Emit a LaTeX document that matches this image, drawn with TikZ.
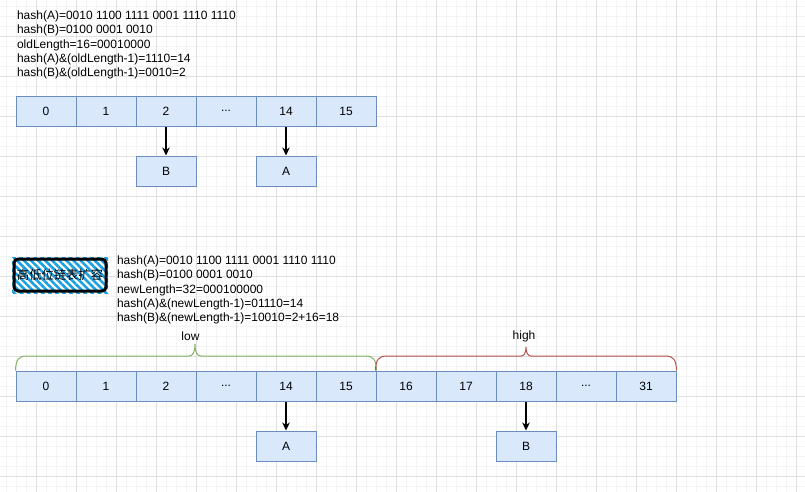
\documentclass[tikz,border=0pt]{standalone}
\usepackage{fontspec}
\setmainfont{Liberation Sans}
\newfontfamily\cjkfont{Noto Sans CJK SC}
\usetikzlibrary{arrows.meta,patterns.meta}
\definecolor{cellfill}{HTML}{DAE8FC}
\definecolor{cellline}{HTML}{6C8EBF}
\definecolor{lowgreen}{HTML}{82B366}
\definecolor{highred}{HTML}{B85450}
\definecolor{hatchblue}{HTML}{1BA1E2}
\definecolor{gridmajor}{HTML}{E0E0E0}
\definecolor{gridminor}{HTML}{F4F4F4}

\begin{document}
\begin{tikzpicture}[x=1pt,y=-1pt]
\tikzstyle{every node}+=[inner sep=0pt]
\tikzstyle{cell}=[draw=cellline,fill=cellfill,line width=1pt,minimum width=60pt,minimum height=30pt,font=\fontsize{12}{14}\selectfont]
\tikzstyle{hashtext}=[anchor=north west,align=left,font=\fontsize{12}{14.3}\selectfont]
\tikzstyle{bucket}=[-{Stealth[length=8pt,width=7.5pt,inset=2.5pt]},line width=1.1pt,black]
\useasboundingbox (0,0) rectangle (805,491);
\fill [white] (0,0) rectangle (805,491);
\draw [gridminor,line width=0.8pt,shift={(6,6)},step=10pt] (-10,-10) grid (800,486);
\draw [gridmajor,line width=0.8pt,shift={(36,36)},step=40pt] (-40,-40) grid (770,456);
\node [hashtext] (oldtext) at (16.8,10.6) {hash(A)=0010 1100 1111 0001 1110 1110\\hash(B)=0100 0001 0010\\oldLength=16=00010000\\hash(A)\&(oldLength-1)=1110=14\\hash(B)\&(oldLength-1)=0010=2};
\node [cell] (o0) at (46,111) {0};
\node [cell] (o1) at (106,111) {1};
\node [cell] (o2) at (166,111) {2};
\node [cell] (o3) at (226,111) {...};
\node [cell] (o4) at (286,111) {14};
\node [cell] (o5) at (346,111) {15};
\node [cell] (oB) at (166,171) {B};
\node [cell] (oA) at (286,171) {A};
\draw [bucket] (o2) -- (oB);
\draw [bucket] (o4) -- (oA);
\fill [white] (12,257) rectangle (108,293);
\fill [pattern={Lines[angle=-45,distance=5pt,line width=2.6pt]},pattern color=hatchblue] (12,257) rectangle (108,293);
\draw [black,line width=3pt,rounded corners=4pt] (14,259) rectangle (106,291);
\node [font=\cjkfont\fontsize{12.3}{14}\selectfont] (title) at (60,275) {高低位链表扩容};
\node [hashtext] (newtext) at (116.8,255.6) {hash(A)=0010 1100 1111 0001 1110 1110\\hash(B)=0100 0001 0010\\newLength=32=000100000\\hash(A)\&(newLength-1)=01110=14\\hash(B)\&(newLength-1)=10010=2+16=18};
\node [cell] (n0) at (46,386) {0};
\node [cell] (n1) at (106,386) {1};
\node [cell] (n2) at (166,386) {2};
\node [cell] (n3) at (226,386) {...};
\node [cell] (n4) at (286,386) {14};
\node [cell] (n5) at (346,386) {15};
\node [cell] (n6) at (406,386) {16};
\node [cell] (n7) at (466,386) {17};
\node [cell] (n8) at (526,386) {18};
\node [cell] (n9) at (586,386) {...};
\node [cell] (n10) at (646,386) {31};
\node [cell] (nA) at (286,446) {A};
\node [cell] (nB) at (526,446) {B};
\draw [bucket] (n4) -- (nA);
\draw [bucket] (n8) -- (nB);
\draw [lowgreen,line width=1pt] (n0.north west) .. controls (16,360) and (18,356) .. (27,356) -- (189,356) .. controls (193,356) and (195,352) .. (195,344) .. controls (195,352) and (197,356) .. (201,356) -- (365,356) .. controls (374,356) and (376,360) .. (n5.north east);
\draw [highred,line width=1pt] (n6.north west) .. controls (376,360) and (378,356) .. (387,356) -- (521,356) .. controls (524,356) and (526,353) .. (526,347) .. controls (526,353) and (528,356) .. (531,356) -- (665,356) .. controls (674,356) and (676,360) .. (n10.north east);
\node [font=\fontsize{12}{14}\selectfont] (low) at (190.5,336) {low};
\node [font=\fontsize{12}{14}\selectfont] (high) at (524,336.5) {high};
\end{tikzpicture}
\end{document}
